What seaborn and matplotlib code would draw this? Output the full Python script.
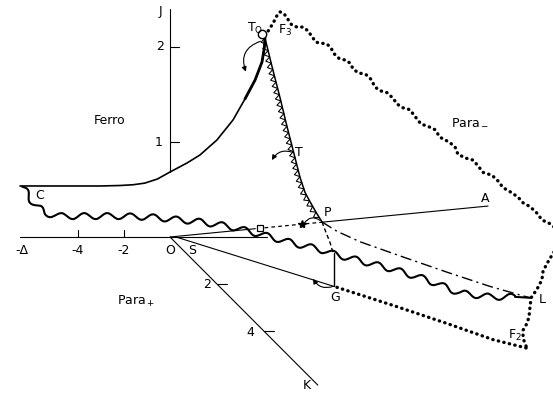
import numpy as np
import matplotlib
matplotlib.use("Agg")
import matplotlib.pyplot as plt
import seaborn as sns

# ---------------- data (horizontal: Delta units, vertical: J units) ----------------
ferro_x = [-6.52, -4.78, -3.04, -2.17, -1.61, -1.10, -0.55, 0.00, 0.74, 1.30, 2.04, 2.74, 3.26, 3.70, 4.00, 4.10, 4.13]
ferro_j = [0.537, 0.537, 0.537, 0.542, 0.550, 0.567, 0.610, 0.684, 0.779, 0.863, 1.021, 1.232, 1.453, 1.653, 1.842, 1.99, 2.095]

tline_x = [4.13, 4.43, 4.78, 5.09, 5.43, 5.65, 5.87, 6.09, 6.35, 6.61]
tline_j = [2.095, 1.80, 1.47, 1.16, 0.84, 0.63, 0.47, 0.37, 0.26, 0.158]

f3_x = [4.13, 4.30, 4.48, 4.65, 4.78, 4.96, 5.13, 5.30, 5.52, 5.78, 6.00, 6.17, 6.35, 6.61,
        6.83, 7.00, 7.13, 7.35, 7.65, 7.83, 7.96, 8.17, 8.52, 8.74, 8.91, 9.13, 9.43, 9.70,
        9.87, 10.13, 10.43, 10.65, 10.91, 11.26, 11.52, 11.74, 12.13, 12.39, 12.52, 12.87,
        13.17, 13.39, 13.61, 14.00, 14.26, 14.48, 14.83, 15.13, 15.35, 15.65, 15.96, 16.17,
        16.52, 16.78]
f3_j = [2.12, 2.18, 2.25, 2.33, 2.37, 2.35, 2.29, 2.23, 2.21, 2.21, 2.17, 2.11, 2.05, 2.04,
        2.03, 1.99, 1.93, 1.88, 1.86, 1.83, 1.77, 1.73, 1.71, 1.66, 1.58, 1.54, 1.52, 1.46,
        1.40, 1.36, 1.34, 1.27, 1.19, 1.16, 1.13, 1.05, 1.00, 0.95, 0.87, 0.83,
        0.81, 0.75, 0.68, 0.65, 0.59, 0.52, 0.47, 0.42, 0.36, 0.32, 0.25, 0.18,
        0.14, 0.09]

f2_x = [16.74, 16.61, 16.39, 16.22, 16.17, 16.00, 15.87, 15.70, 15.65, 15.61, 15.52, 15.35, 15.35, 15.43, 15.52]
f2_j = [-0.14, -0.19, -0.28, -0.36, -0.45, -0.53, -0.58, -0.64, -0.74, -0.84, -0.91, -0.98, -1.06, -1.12, -1.17]

gf2_x = [7.26, 9.70, 12.04, 14.04, 15.52]
gf2_j = [-0.53, -0.72, -0.91, -1.08, -1.17]

wavy_x = [-6.43, -6.17, -5.87, -5.43, -4.78, -3.48, -2.17, -0.87, 0.00, 1.30, 2.61, 3.91,
          5.43, 6.52, 7.13, 8.26, 9.70, 11.17, 12.61, 13.91, 15.00]
wavy_j = [0.53, 0.44, 0.34, 0.25, 0.22, 0.22, 0.22, 0.21, 0.19, 0.16, 0.11, 0.03,
          -0.07, -0.13, -0.18, -0.25, -0.34, -0.45, -0.59, -0.63, -0.63]
wavy_end_x = [15.00, 15.65]
wavy_end_j = [-0.63, -0.64]

pl_x = [6.61, 7.26, 8.26, 10.13, 12.04, 13.91, 15.65]
pl_j = [0.158, 0.06, -0.05, -0.21, -0.37, -0.52, -0.64]

pd_x = [6.61, 6.78, 6.96, 7.09]
pd_j = [0.158, 0.05, -0.06, -0.17]

T0 = (4.00, 2.14)
P = (6.61, 0.158)
G = (7.13, -0.52)
A = (13.83, 0.326)
L = (15.65, -0.64)
G_top_j = -0.17
og_start_x = 0.26
square_x = 3.91
star_x = 5.74
delta_axis = [-6.52, 4.2]
j_axis = [0.684, 2.40]
x_ticks = [-4, -2]
j_ticks = [1, 2]
k_ticks = [2, 4]
k_dir = (1.02, -0.2474)
k_len = 6.3

labels = [
    ("J", -0.43, 2.37), ("2", -0.43, 2.0), ("1", -0.48, 1.0),
    ("-Δ", -6.43, -0.14), ("-4", -4.0, -0.14), ("-2", -2.0, -0.14),
    ("O", 0.0, -0.14), ("S", 0.96, -0.14),
    ("2", 1.61, -0.505), ("4", 3.48, -1.0), ("K", 5.96, -1.56),
    ("Ferro", -2.61, 1.23), (r"$\mathregular{Para_-}$", 13.04, 1.22),
    (r"$\mathregular{Para_+}$", -1.48, -0.68),
    ("C", -5.65, 0.44), (r"$\mathregular{T_O}$", 3.70, 2.20),
    (r"$\mathregular{F_3}$", 5.00, 2.17), ("T", 5.60, 0.89),
    ("P", 6.85, 0.26), ("A", 13.70, 0.41), ("G", 7.17, -0.64),
    ("L", 16.20, -0.66), (r"$\mathregular{F_2}$", 15.02, -1.04),
]

# ---------------- figure ----------------
sns.set_theme(style="white")
plt.rcParams['font.family'] = ['DejaVu Sans']
plt.rcParams['mathtext.fontset'] = 'dejavusans'

fig = plt.figure(figsize=(5.53, 3.93), dpi=100)
fig.patch.set_facecolor("white")
ax = fig.add_axes([0, 0, 1, 1])
ax.set_xlim(-170 / 23, 383 / 23)
ax.set_ylim(-156 / 95, 237 / 95)
ax.axis("off")

K = "black"


def _disp(x, y):
    return ax.transData.transform(np.column_stack([x, y]))


def _data(Pts):
    return ax.transData.inverted().transform(Pts)


def _resample(Pd, step=1.0):
    seg = np.hypot(*np.diff(Pd, axis=0).T)
    s = np.concatenate([[0.0], np.cumsum(seg)])
    ss = np.append(np.arange(0, s[-1], step), s[-1])
    Q = np.column_stack([np.interp(ss, s, Pd[:, 0]), np.interp(ss, s, Pd[:, 1])])
    return Q, ss


def _normals(Q, win=9):
    t = np.gradient(Q, axis=0)
    k = np.ones(win) / win
    tx = np.convolve(t[:, 0], k, mode="same")
    ty = np.convolve(t[:, 1], k, mode="same")
    n = np.hypot(tx, ty)
    n[n == 0] = 1
    return np.column_stack([-ty / n, tx / n])


def wavy_path(x, y, period=23.0, amp=3.0):
    Q, s = _resample(_disp(x, y), 1.0)
    N = _normals(Q)
    W = Q + N * (amp * np.sin(2 * np.pi * s / period))[:, None]
    return _data(W)


def saw_path(x, y, step=6.5, height=4.8, side=-1):
    Q, s = _resample(_disp(x, y), 0.5)
    N = _normals(Q)
    def at(v):
        return np.array([np.interp(v, s, Q[:, 0]), np.interp(v, s, Q[:, 1])])
    def nat(v):
        return np.array([np.interp(v, s, N[:, 0]), np.interp(v, s, N[:, 1])])
    pts = []
    a = 0.0
    while a + step <= s[-1]:
        pts.append(at(a))
        m = a + step / 2
        pts.append(at(m) + side * height * nat(m))
        a += step
    pts.append(at(a))
    return _data(np.array(pts))


# axes of the diagram
ax.plot(delta_axis, [0, 0], color=K, lw=0.8)
ax.plot([0, 0], j_axis, color=K, lw=0.8)
for xt in x_ticks:
    ax.plot([xt, xt], [0, 0.075], color=K, lw=0.8)
for jt in j_ticks:
    ax.plot([0, 0.39], [jt, jt], color=K, lw=0.8)
ax.plot([0, k_dir[0] * k_len], [0, k_dir[1] * k_len], color=K, lw=0.8)
for kt in k_ticks:
    ax.plot([k_dir[0] * kt, k_dir[0] * kt + 0.43], [k_dir[1] * kt] * 2, color=K, lw=0.8)

# Ferro boundary
sns.lineplot(x=ferro_x, y=ferro_j, sort=False, estimator=None, color=K, lw=1.2, ax=ax)
ax.plot(ferro_x[-5:], ferro_j[-5:], color=K, lw=2.0, solid_capstyle="round")

# T line with triangles
ax.plot(tline_x, tline_j, color=K, lw=1.1)
sw = saw_path(tline_x, tline_j)
ax.plot(sw[:, 0], sw[:, 1], color=K, lw=0.75)

# dotted boundaries
dot = dict(color=K, lw=2.4, ls=(0, (0.1, 1.6)), dash_capstyle="round")
ax.plot(f3_x, f3_j, **dot)
ax.plot(f2_x, f2_j, **dot)
ax.plot(gf2_x, gf2_j, **dot)

# wavy line
wv = wavy_path(wavy_x, wavy_j)
ax.plot(wv[:, 0], wv[:, 1], color=K, lw=1.5)
ax.plot(wavy_end_x, wavy_end_j, color=K, lw=1.5)

# O-A line: solid / dashed / solid
slope = A[1] / A[0]
ax.plot([0, square_x - 0.2], [0, slope * (square_x - 0.2)], color=K, lw=0.8)
ax.plot([square_x + 0.2, P[0]], [slope * (square_x + 0.2), slope * P[0]], color=K, lw=0.9, ls=(0, (3, 2.5)))
ax.plot([P[0], A[0]], [slope * P[0], A[1]], color=K, lw=0.8)
ax.plot([square_x], [slope * square_x], marker="s", ms=5, mfc="white", mec=K, mew=0.9, ls="none")
ax.plot([star_x], [slope * star_x], marker="*", ms=6, color=K, ls="none")

# O-G line, G vertical, dashed P-down, dash-dot P-L
ax.plot([og_start_x, G[0]], [0, G[1]], color=K, lw=0.8)
ax.plot([G[0], G[0]], [G_top_j, G[1]], color=K, lw=1.0)
ax.plot(pd_x, pd_j, color=K, lw=1.0, ls=(0, (3, 2)))
ax.plot(pl_x, pl_j, color=K, lw=1.0, ls=(0, (8, 3, 1.5, 3)))

# T0 marker
ax.plot([T0[0]], [T0[1]], marker="o", ms=6, mfc="white", mec=K, mew=1.0, ls="none")

# curved arrows
arr = dict(arrowstyle="-|>", color=K, lw=0.8, mutation_scale=7, shrinkA=0, shrinkB=0)
ax.annotate("", xy=(3.30, 1.74), xytext=(3.93, 2.06),
            arrowprops=dict(connectionstyle="arc3,rad=0.5", **arr))
ax.annotate("", xy=(4.43, 0.81), xytext=(5.35, 0.89),
            arrowprops=dict(connectionstyle="arc3,rad=0.4", **arr))
ax.annotate("", xy=(6.22, -0.44), xytext=(7.09, -0.52),
            arrowprops=dict(connectionstyle="arc3,rad=-0.4", **arr))
ax.annotate("", xy=(star_x + 0.1, slope * star_x + 0.01), xytext=(6.52, 0.175),
            arrowprops=dict(arrowstyle="-", color=K, lw=0.8, shrinkA=0, shrinkB=0,
                            connectionstyle="arc3,rad=0.5"))

for txt, x, y in labels:
    ax.text(x, y, txt, ha="center", va="center", fontsize=9, color=K)

fig.savefig("out.png", dpi=100, facecolor="white")
